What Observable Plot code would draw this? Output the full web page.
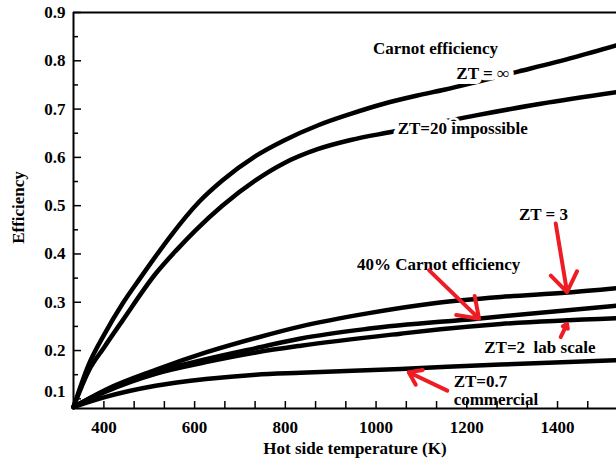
<!DOCTYPE html>
<html>
<head>
<meta charset="utf-8">
<script src="https://cdn.jsdelivr.net/npm/d3@7"></script>
<script src="https://cdn.jsdelivr.net/npm/@observablehq/plot@0.6"></script>
<style>
  html, body { margin: 0; padding: 0; background: #fff; }
  svg, svg text { font-family: "Liberation Serif", "Times New Roman", serif !important; }
</style>
</head>
<body>
<div id="chart"></div>
<script>
// ---- data ----
const carnotT   = [333, 367, 400, 441, 480, 514, 547, 610, 661, 735, 797, 871, 944, 1017, 1091, 1150, 1315, 1436, 1530];
const carnotEff = [0.083, 0.172, 0.232, 0.297, 0.350, 0.395, 0.437, 0.508, 0.552, 0.603, 0.635, 0.666, 0.690, 0.711, 0.728, 0.740, 0.778, 0.807, 0.832];

const zt20T   = [333, 367, 400, 441, 514, 560, 602, 661, 735, 797, 871, 944, 1036, 1220, 1363, 1530];
const zt20Eff = [0.083, 0.159, 0.206, 0.262, 0.359, 0.408, 0.449, 0.500, 0.553, 0.588, 0.617, 0.636, 0.653, 0.687, 0.711, 0.735];

const zt3T   = [333, 404, 514, 625, 735, 834, 981, 1128, 1275, 1422, 1530];
const zt3Eff = [0.083, 0.119, 0.160, 0.196, 0.226, 0.250, 0.277, 0.298, 0.311, 0.320, 0.329];

const carnot40T   = [333, 404, 514, 625, 735, 834, 981, 1223, 1530];
const carnot40Eff = [0.083, 0.117, 0.156, 0.182, 0.205, 0.225, 0.245, 0.266, 0.293];

const zt2T   = [333, 404, 514, 625, 735, 834, 1054, 1142, 1275, 1530];
const zt2Eff = [0.083, 0.115, 0.152, 0.176, 0.196, 0.210, 0.235, 0.244, 0.255, 0.267];

const zt07T   = [333, 404, 514, 625, 735, 834, 1054, 1275, 1530];
const zt07Eff = [0.083, 0.104, 0.127, 0.141, 0.150, 0.154, 0.162, 0.171, 0.180];

const seriesNames = ["ZT = ∞", "ZT = 20", "ZT = 3", "40% Carnot", "ZT = 2", "ZT = 0.7"];
const seriesT   = [carnotT, zt20T, zt3T, carnot40T, zt2T, zt07T];
const seriesEff = [carnotEff, zt20Eff, zt3Eff, carnot40Eff, zt2Eff, zt07Eff];

// annotation labels
const labelText   = ["Carnot efficiency", "ZT = ∞", "ZT=20 impossible", "ZT = 3", "40% Carnot efficiency", "ZT=2  lab scale", "ZT=0.7", "commercial"];
const labelT      = [1131, 1235, 1191, 1369, 1138, 1361, 1171, 1171];
const labelEff    = [0.825, 0.774, 0.660, 0.482, 0.378, 0.206, 0.136, 0.099];
const labelAnchor = ["middle", "middle", "middle", "middle", "middle", "middle", "start", "start"];

// red arrows (tail -> head)
const arrowT1   = [1396, 1117, 1407, 1157];
const arrowEff1 = [0.463, 0.366, 0.228, 0.117];
const arrowT2   = [1421, 1227, 1421, 1072];
const arrowEff2 = [0.321, 0.266, 0.255, 0.155];

// axes
const xTickLabels = [400, 600, 800, 1000, 1200, 1400];
const xMinorTicks = [333.33, 466.67, 533.33, 666.67, 733.33, 866.67, 933.33, 1066.67, 1133.33, 1266.67, 1333.33, 1466.67];
const yTickLabels = [0.1, 0.2, 0.3, 0.4, 0.5, 0.6, 0.7, 0.8, 0.9];
const yMinorTicks = [0.15, 0.25, 0.35, 0.45, 0.55, 0.65, 0.75, 0.85];
const xDomain = [333, 1530];
const yDomain = [0.08, 0.9];

// ---- tables built from the arrays ----
const rows = seriesNames.flatMap((name, s) =>
  seriesT[s].map((t, i) => ({series: name, T: t, eff: seriesEff[s][i]})));
const labels = labelText.map((t, i) => ({text: t, T: labelT[i], eff: labelEff[i], anchor: labelAnchor[i]}));
const arrows = arrowT1.map((t, i) => ({x1: t, y1: arrowEff1[i], x2: arrowT2[i], y2: arrowEff2[i]}));

const fontFamily = "Liberation Serif";
const fs = 17;

const chart = Plot.plot({
  width: 616,
  height: 470,
  marginLeft: 73,
  marginRight: 0,
  marginTop: 12,
  marginBottom: 62,
  style: {fontFamily, fontWeight: "bold", fontSize: fs + "px", color: "black", background: "white", overflow: "visible"},
  x: {domain: xDomain},
  y: {domain: yDomain},
  marks: [
    Plot.line(rows, {x: "T", y: "eff", z: "series", stroke: "black", strokeWidth: 4.5, curve: "monotone-x"}),
    Plot.text(labels.filter(d => d.anchor === "middle"), {x: "T", y: "eff", text: "text", textAnchor: "middle",
      fill: "black", stroke: "white", strokeWidth: 10, fontFamily, fontSize: fs, fontWeight: "bold"}),
    Plot.text(labels.filter(d => d.anchor === "start"), {x: "T", y: "eff", text: "text", textAnchor: "start",
      fill: "black", stroke: "white", strokeWidth: 5, fontFamily, fontSize: fs, fontWeight: "bold"}),
    // frame (left, bottom, top)
    Plot.ruleX([xDomain[0]], {stroke: "black", strokeWidth: 2}),
    Plot.ruleY(yDomain, {stroke: "black", strokeWidth: 2}),
    // y axis: labels + inward ticks (the lowest label sits slightly raised, as in the reference)
    Plot.axisY({ticks: yTickLabels.slice(1), tickSize: 0, tickPadding: 8, tickFormat: d3.format(".1f"), label: null, fontFamily, fontSize: fs, fontWeight: "bold"}),
    Plot.axisY({ticks: yTickLabels.slice(0, 1), tickSize: 0, tickPadding: 8, dy: -7, tickFormat: d3.format(".1f"), label: null, fontFamily, fontSize: fs, fontWeight: "bold"}),
    Plot.axisY({ticks: yTickLabels, tickSize: 8, dx: 8, tickFormat: () => "", label: null, strokeWidth: 1.5}),
    Plot.axisY({ticks: yMinorTicks, tickSize: 5, dx: 5, tickFormat: () => "", label: null, strokeWidth: 1.5}),
    // x axis: labels + inward ticks
    Plot.axisX({ticks: xTickLabels, tickSize: 0, tickPadding: 12, tickFormat: d3.format("d"), label: null, fontFamily, fontSize: fs, fontWeight: "bold"}),
    Plot.axisX({ticks: xTickLabels, tickSize: 7, dy: -7, tickFormat: () => "", label: null, strokeWidth: 1.5}),
    Plot.axisX({ticks: xMinorTicks, tickSize: 7, dy: -7, tickFormat: () => "", label: null, strokeWidth: 1.5}),
    // axis titles
    Plot.text(["Efficiency"], {text: d => d, frameAnchor: "left", dx: -55, dy: -3, rotate: -90, textAnchor: "middle", lineAnchor: "middle",
      fontFamily, fontSize: fs, fontWeight: "bold", fill: "black"}),
    Plot.text(["Hot side temperature (K)"], {text: d => d, frameAnchor: "bottom", dx: 10, dy: 40, textAnchor: "middle", lineAnchor: "middle",
      fontFamily, fontSize: fs, fontWeight: "bold", fill: "black"}),
    // red arrows
    Plot.arrow(arrows, {x1: "x1", y1: "y1", x2: "x2", y2: "y2", stroke: "#ee1c24", strokeWidth: 4, headLength: 14, headAngle: 70})
  ]
});
document.getElementById("chart").appendChild(chart);
</script>
</body>
</html>
